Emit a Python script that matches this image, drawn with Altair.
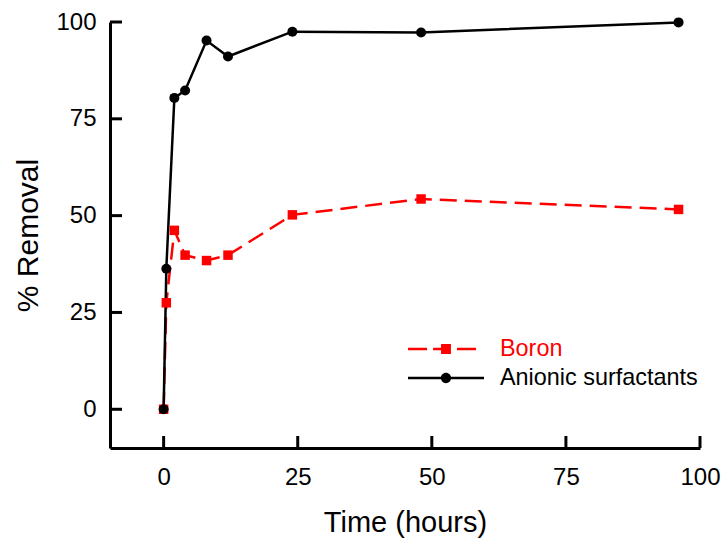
import altair as alt
import pandas as pd

# ---- data ----
time_h = [0, 0.5, 2, 4, 8, 12, 24, 48, 96]
boron = [0, 27.5, 46.2, 39.8, 38.4, 39.8, 50.2, 54.3, 51.6]
anionic = [0, 36.3, 80.4, 82.3, 95.2, 91.1, 97.5, 97.3, 99.9]
series_names = ["Boron", "Anionic surfactants"]
x_ticks = [0, 25, 50, 75, 100]
y_ticks = [0, 25, 50, 75, 100]

RED = "#ff0000"
BLACK = "#000000"
FONT = "Liberation Sans"

df_b = pd.DataFrame({"t": time_h, "v": boron, "series": series_names[0]})
df_a = pd.DataFrame({"t": time_h, "v": anionic, "series": series_names[1]})
df_xt = pd.DataFrame({"t": x_ticks})
df_yt = pd.DataFrame({"v": y_ticks})
df_leg = pd.DataFrame({"series": series_names})

xscale = alt.Scale(domain=[-10, 100], nice=False, zero=False)
yscale = alt.Scale(domain=[-10, 100], nice=False, zero=False)

xaxis = alt.Axis(values=x_ticks, ticks=False, tickSize=0, grid=False, labelFlush=False,
                 domainWidth=3, domainColor=BLACK,
                 labelFont=FONT, labelFontSize=24, labelColor=BLACK, labelPadding=17,
                 title="Time (hours)", titleFont=FONT, titleFontSize=29,
                 titleFontWeight="normal", titleColor=BLACK, titlePadding=19)
yaxis = alt.Axis(values=y_ticks, ticks=False, tickSize=0, grid=False, labelFlush=False,
                 domainWidth=3, domainColor=BLACK,
                 labelFont=FONT, labelFontSize=24, labelColor=BLACK, labelPadding=14,
                 title="% Removal", titleFont=FONT, titleFontSize=30,
                 titleFontWeight="normal", titleColor=BLACK, titlePadding=12)

X = alt.X("t:Q", scale=xscale, axis=xaxis)
Y = alt.Y("v:Q", scale=yscale, axis=yaxis)

W, H = 590, 426

line_b = alt.Chart(df_b).mark_line(color=RED, strokeWidth=2.5, strokeDash=[17, 8]).encode(x=X, y=Y)
pts_b = alt.Chart(df_b).mark_point(shape="square", filled=True, color=RED, opacity=1, size=90).encode(x=X, y=Y)
line_a = alt.Chart(df_a).mark_line(color=BLACK, strokeWidth=2.5).encode(x=X, y=Y)
pts_a = alt.Chart(df_a).mark_point(shape="circle", filled=True, color=BLACK, opacity=1, size=100).encode(x=X, y=Y)

# inward tick marks
xt = alt.Chart(df_xt).mark_rule(color=BLACK, strokeWidth=3).encode(
    x=X, y=alt.value(H), y2=alt.value(H - 12))
yt = alt.Chart(df_yt).mark_rule(color=BLACK, strokeWidth=3).encode(
    y=Y, x=alt.value(0), x2=alt.value(12))

# legend symbols: line segments (thin filled bars) + marker as one custom path
T = 0.035
path_b = (f"M-1,-{T}H-0.5V{T}H-1Z"
          f"M-0.34,-{T}H-0.13V{T}H-0.34Z"
          f"M0.29,-{T}H0.79V{T}H0.29Z"
          "M-0.13,-0.13H0.13V0.13H-0.13Z")
path_a = (f"M-1,-{T}H-0.12V{T}H-1Z"
          f"M0.12,-{T}H1V{T}H0.12Z"
          "M0.135,0A0.135,0.135,0,1,1,-0.135,0A0.135,0.135,0,1,1,0.135,0Z")


def legend_layer(name, path, color, ly):
    return alt.Chart(df_leg).transform_filter(
        alt.datum.series == "__none__"
    ).mark_point(filled=True, color=color).encode(
        shape=alt.Shape("series:N",
                        scale=alt.Scale(domain=[name], range=[path]),
                        legend=alt.Legend(orient="none", legendX=298, legendY=ly,
                                          padding=0, title=None,
                                          symbolSize=76 * 76, symbolStrokeWidth=0,
                                          symbolFillColor=color, symbolStrokeColor=color,
                                          symbolOpacity=1,
                                          labelFont=FONT, labelFontSize=23.4,
                                          labelColor=color, labelOffset=16, labelLimit=0))
    )


leg_b = legend_layer(series_names[0], path_b, RED, 289)
leg_a = legend_layer(series_names[1], path_a, BLACK, 318)

chart = alt.layer(line_b, line_a, pts_b, pts_a, xt, yt, leg_b, leg_a).resolve_scale(
    shape="independent"
).properties(
    width=W, height=H, autosize="none",
    padding={"left": 110, "top": 22, "right": 28, "bottom": 100},
    background="white",
).configure_view(stroke=None)

chart.save("out.html", embed_options={"renderer": "svg", "actions": False})
